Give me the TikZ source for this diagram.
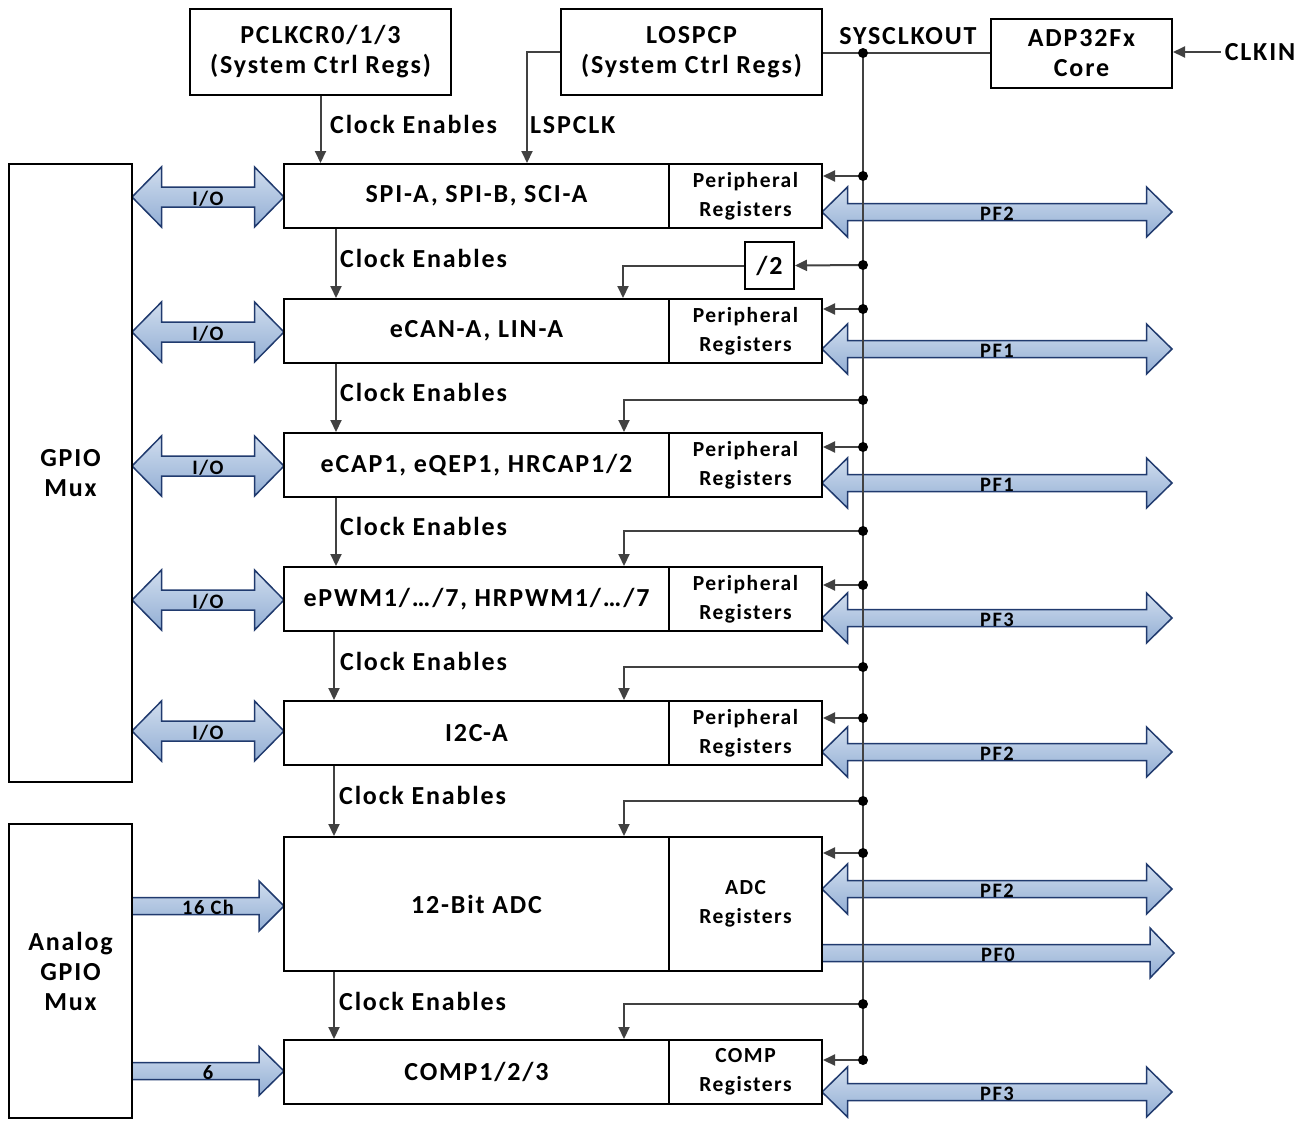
\documentclass[tikz,border=0pt]{standalone}
\usepackage{fontspec}
\setmainfont{Carlito}[LetterSpace=7]
\usetikzlibrary{arrows.meta}
\definecolor{cgray}{RGB}{65,65,65}
\definecolor{btop}{RGB}{208,221,238}
\definecolor{bbot}{RGB}{146,174,212}
\definecolor{bdark}{RGB}{32,58,110}
\newcommand{\DArrow}[8]{%
  \draw[blockarr] (#1,#3) -- (#1+#6,#3-#5) -- (#1+#6,#3-#4) -- (#2-#6,#3-#4) -- (#2-#6,#3-#5) -- (#2,#3)
    -- (#2-#6,#3+#5) -- (#2-#6,#3+#4) -- (#1+#6,#3+#4) -- (#1+#6,#3+#5) -- cycle;
  \node[arrlbl] at (#8,#3+1.5) {#7};}
\newcommand{\SArrow}[8]{%
  \draw[blockarr] (#1,#3-#4) -- (#2-#6,#3-#4) -- (#2-#6,#3-#5) -- (#2,#3)
    -- (#2-#6,#3+#5) -- (#2-#6,#3+#4) -- (#1,#3+#4) -- cycle;
  \node[arrlbl] at (#8,#3+1.5) {#7};}
\tikzset{
  box/.style={draw=black, line width=2pt, inner sep=0pt, align=center,
    font=\bfseries\fontsize{26}{30}\selectfont},
  regbox/.style={box, font=\bfseries\fontsize{21.5}{29}\selectfont},
  conn/.style={draw=cgray, line width=2pt},
  carr/.style={conn, -{Triangle[length=12pt,width=11pt]}},
  dotm/.style={circle, fill=black, inner sep=0pt, minimum size=10pt},
  lbl/.style={font=\bfseries\fontsize{26}{26}\selectfont, inner sep=0pt},
  blockarr/.style={draw=bdark, line width=1.5pt, top color=btop, bottom color=bbot, line join=miter},
  arrlbl/.style={font=\bfseries\fontsize{20.5}{20}\selectfont, inner sep=0pt},
}
\begin{document}
\begin{tikzpicture}[x=1pt,y=-1pt]
\useasboundingbox (0,0) rectangle (1311,1120);
% block arrows
\DArrow{132}{284}{197}{10}{30}{29.5}{I/O}{208}
\DArrow{132}{284}{332}{10}{30}{29.5}{I/O}{208}
\DArrow{132}{284}{466}{10}{30}{29.5}{I/O}{208}
\DArrow{132}{284}{600}{10}{30}{29.5}{I/O}{208}
\DArrow{132}{284}{731}{10}{30}{29.5}{I/O}{208}
\SArrow{132}{284}{906}{8.5}{25}{25}{16 Ch}{208}
\SArrow{132}{284}{1071}{8.5}{24.5}{25}{6}{208}
\DArrow{822}{1172}{212}{8.5}{25}{25.5}{PF2}{997}
\DArrow{822}{1172}{349}{8.5}{25}{25.5}{PF1}{997}
\DArrow{822}{1172}{483}{8.5}{25}{25.5}{PF1}{997}
\DArrow{822}{1172}{618}{8.5}{25}{25.5}{PF3}{997}
\DArrow{822}{1172}{752}{8.5}{25}{25.5}{PF2}{997}
\DArrow{822}{1172}{889}{8.5}{25}{25.5}{PF2}{997}
\SArrow{822}{1174}{953}{8.5}{25}{24}{PF0}{998}
\DArrow{822}{1172}{1092}{8.5}{25}{25.5}{PF3}{997}
% boxes
\node[box, minimum width=261pt, minimum height=86pt] (pclk) at (320.5,52) {PCLKCR0/1/3\\(System Ctrl Regs)};
\node[box, minimum width=261pt, minimum height=86pt] (lospcp) at (691.5,52) {LOSPCP\\(System Ctrl Regs)};
\node[box, minimum width=181pt, minimum height=69pt] (core) at (1081.5,53) {ADP32Fx\\Core};
\node[box, minimum width=123pt, minimum height=618pt] (gpio) at (70.5,473) {GPIO\\Mux};
\node[box, minimum width=123pt, minimum height=294pt] (agpio) at (70.5,971) {Analog\\GPIO\\Mux};
\foreach \n/\y/\t in {1/196/{SPI-A, SPI-B, SCI-A},2/331/{eCAN-A, LIN-A},3/465/{eCAP1, eQEP1, HRCAP1/2},4/599/{ePWM1/…/7, HRPWM1/…/7},5/733/{I2C-A}}{
  \node[box, minimum width=385pt, minimum height=64pt] (m\n) at (476.5,\y) {\t};
  \node[regbox, minimum width=153pt, minimum height=64pt] (g\n) at (745.5,\y) {Peripheral\\Registers};
}
\node[box, minimum width=385pt, minimum height=134pt] (madc) at (476.5,904) {12-Bit ADC};
\node[regbox, minimum width=153pt, minimum height=134pt] (gadc) at (745.5,904) {ADC\\Registers};
\node[box, minimum width=385pt, minimum height=64pt] (mcomp) at (476.5,1072) {COMP1/2/3};
\node[regbox, minimum width=153pt, minimum height=64pt] (gcomp) at (745.5,1072) {COMP\\Registers};
\node[box, minimum width=49pt, minimum height=47pt] (div) at (769.5,265.5) {/2};
% labels
\node[lbl, anchor=west] (ce0) at (330,124) {Clock Enables};
\node[lbl, anchor=west] (ce1) at (340,258) {Clock Enables};
\node[lbl, anchor=west] (ce2) at (340,392) {Clock Enables};
\node[lbl, anchor=west] (ce3) at (340,526) {Clock Enables};
\node[lbl, anchor=west] (ce4) at (340,661) {Clock Enables};
\node[lbl, anchor=west] (ce5) at (339,795) {Clock Enables};
\node[lbl, anchor=west] (ce6) at (339,1001) {Clock Enables};
\node[lbl, anchor=west] (lsl) at (530,125) {LSPCLK};
\node[lbl] (sysl) at (908,36) {SYSCLKOUT};
\node[lbl] (clkin) at (1260,52) {CLKIN};
% helper x coordinates
\coordinate (xa) at (336,0);
\coordinate (xb) at (334,0);
\coordinate (xls) at (527,0);
\coordinate (x623) at (623,0);
\coordinate (x624) at (624,0);
% clock enable arrows
\draw[carr] (pclk.south) -- (m1.north -| pclk.south);
\draw[carr] (m1.south -| xa) -- (m2.north -| xa);
\draw[carr] (m2.south -| xa) -- (m3.north -| xa);
\draw[carr] (m3.south -| xa) -- (m4.north -| xa);
\draw[carr] (m4.south -| xb) -- (m5.north -| xb);
\draw[carr] (m5.south -| xb) -- (madc.north -| xb);
\draw[carr] (madc.south -| xb) -- (mcomp.north -| xb);
\draw[carr] (lospcp.west) -| (m1.north -| xls);
% bus
\foreach \n/\y in {0/53,1/176,2/265,3/309,4/400,5/447,6/531,7/585,8/667,9/718,10/801,11/853,12/1004,13/1060}
  \coordinate (s\n) at (863,\y);
\draw[conn] (lospcp.east |- s0) -- (core.west |- s0);
\draw[carr] ([xshift=-4pt]clkin.west) -- (core.east |- clkin.west);
\draw[conn] (s0) -- (s13);
\draw[carr] (s1) -- (s1 -| g1.east);
\draw[carr] (s3) -- (s3 -| g2.east);
\draw[carr] (s5) -- (s5 -| g3.east);
\draw[carr] (s7) -- (s7 -| g4.east);
\draw[carr] (s9) -- (s9 -| g5.east);
\draw[carr] (s11) -- (s11 -| gadc.east);
\draw[carr] (s13) -- (s13 -| gcomp.east);
\draw[carr] (s2) -- (div.east);
\draw[carr] (div.west) -| (m2.north -| x623);
\draw[carr] (s4) -| (m3.north -| x624);
\draw[carr] (s6) -| (m4.north -| x624);
\draw[carr] (s8) -| (m5.north -| x624);
\draw[carr] (s10) -| (madc.north -| x624);
\draw[carr] (s12) -| (mcomp.north -| x624);
\foreach \n in {0,...,13} \node[dotm] at (s\n) {};
\end{tikzpicture}
\end{document}
